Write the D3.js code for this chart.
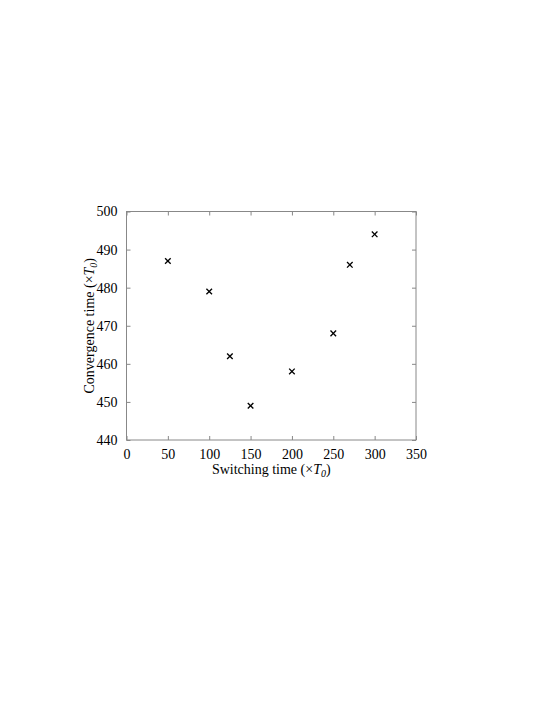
<!DOCTYPE html>
<html lang="en">
<head>
  <meta charset="UTF-8">
  <title>Convergence vs switching time</title>
  <style>
  body { margin: 0; background: #fff; }
  text { font-family: "Liberation Serif", "Times New Roman", serif; fill: #000; }
  .frame { fill: none; stroke: #888; stroke-width: 1; }
  .tick line { stroke: #888; }
  .mark { stroke: #000; stroke-width: 1.3; }
  </style>
</head>
<body>
  <script src="https://d3js.org/d3.v7.min.js"></script>
  <script>

    var switchTime = [50, 100, 125, 150, 200, 250, 270, 300];
    var convTime   = [487, 479, 462, 449, 458, 468, 486, 494];
    var xTicks = [0, 50, 100, 150, 200, 250, 300, 350];
    var yTicks = [440, 450, 460, 470, 480, 490, 500];

    var width = 545, height = 705;
    // plot box (note: "top" is reserved on window, so use px*)
    var pxL = 126.5, pxR = 416, pxT = 211.5, pxB = 440;

    var svg = d3.select("body").append("svg")
        .attr("width", width)
        .attr("height", height);

    var x = d3.scaleLinear().domain([0, 350]).range([pxL, pxR]);
    var y = d3.scaleLinear().domain([440, 500]).range([pxB, pxT]);

    var tk = 4;

    // inner ticks on all four sides
    function ticksOn(axis, tr) {
      var g = svg.append("g").attr("transform", tr).call(axis);
      g.select(".domain").remove();
      return g;
    }

    var gb = ticksOn(d3.axisBottom(x).tickValues(xTicks).tickSizeInner(-tk).tickSizeOuter(0).tickPadding(9),
      "translate(0," + pxB + ")");
    gb.selectAll("text").attr("font-size", 14);

    ticksOn(d3.axisTop(x).tickValues(xTicks).tickSizeInner(-tk).tickSizeOuter(0).tickFormat(""),
      "translate(0," + pxT + ")");

    var gl = ticksOn(d3.axisLeft(y).tickValues(yTicks).tickSizeInner(-tk).tickSizeOuter(0).tickPadding(9),
      "translate(" + pxL + ",0)");
    gl.selectAll("text").attr("font-size", 14);

    ticksOn(d3.axisRight(y).tickValues(yTicks).tickSizeInner(-tk).tickSizeOuter(0).tickFormat(""),
      "translate(" + pxR + ",0)");

    svg.selectAll(".tick text").attr("fill", "#000").attr("font-family", null);

    svg.append("rect").attr("class", "frame")
        .attr("x", pxL).attr("y", pxT)
        .attr("width", pxR - pxL).attr("height", pxB - pxT);

    // cross markers
    var s = 2.8;
    var pts = svg.append("g").selectAll("g")
        .data(switchTime)
        .enter().append("g")
        .attr("transform", function(d, i){ return "translate(" + x(d) + "," + y(convTime[i]) + ")"; });
    pts.append("line").attr("class", "mark").attr("x1", -s).attr("y1", -s).attr("x2", s).attr("y2", s);
    pts.append("line").attr("class", "mark").attr("x1", -s).attr("y1", s).attr("x2", s).attr("y2", -s);

    // axis labels
    var xl = svg.append("text")
        .attr("x", (pxL + pxR) / 2)
        .attr("y", 474)
        .attr("text-anchor", "middle")
        .attr("font-size", 14);
    xl.append("tspan").text("Switching time (\u00d7");
    xl.append("tspan").attr("font-style", "italic").text("T");
    xl.append("tspan").attr("font-style", "italic").attr("font-size", 10).attr("dy", 3).text("0");
    xl.append("tspan").attr("dy", -3).text(")");

    var yl = svg.append("text")
        .attr("transform", "translate(94," + (pxT + pxB) / 2 + ") rotate(-90)")
        .attr("text-anchor", "middle")
        .attr("font-size", 14);
    yl.append("tspan").text("Convergence time (\u00d7");
    yl.append("tspan").attr("font-style", "italic").text("T");
    yl.append("tspan").attr("font-style", "italic").attr("font-size", 10).attr("dy", 3).text("0");
    yl.append("tspan").attr("dy", -3).text(")");

  </script>
</body>
</html>
